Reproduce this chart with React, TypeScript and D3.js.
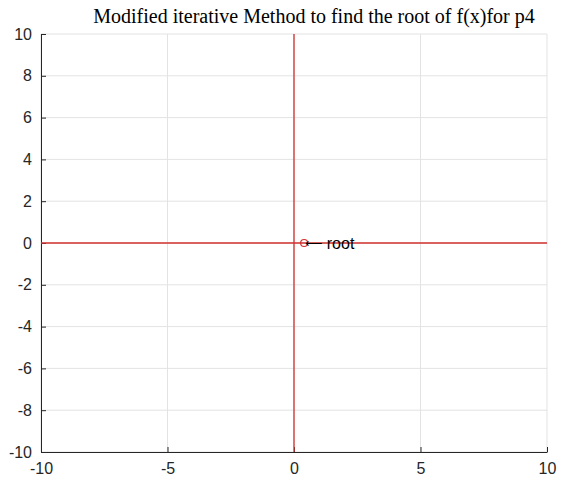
import * as d3 from "d3";
import { useEffect, useRef } from "react";

// axis ranges and ticks
const xDomain = [-10, 10];
const yDomain = [-10, 10];
const xTicks = [-10, -5, 0, 5, 10];
const yTicks = [-10, -8, -6, -4, -2, 0, 2, 4, 6, 8, 10];

// red reference lines (y = 0 and x = 0)
const hLineX = [-10, 10];
const hLineY = [0, 0];
const vLineX = [0, 0];
const vLineY = [-10, 10];

// the root found by the method
const rootX = 0.4;
const rootY = 0;
const rootArrow = "\u27F5";
const rootLabel = " root";

const title = "Modified iterative Method to find the root of f(x)for p4";

export default function App() {
  const ref = useRef<SVGSVGElement>(null);

  useEffect(() => {
    const svg = d3.select(ref.current);
    svg.selectAll("*").remove();

    const margin = { top: 34, right: 19, bottom: 31, left: 41 };
    const width = 566 - margin.left - margin.right;
    const height = 483 - margin.top - margin.bottom;

    const x = d3.scaleLinear().domain(xDomain).range([0, width]);
    const y = d3.scaleLinear().domain(yDomain).range([height, 0]);

    const g = svg
      .append("g")
      .attr("transform", `translate(${margin.left},${margin.top})`);

    // grid
    g.selectAll("line.gx")
      .data(xTicks)
      .enter()
      .append("line")
      .attr("x1", (d) => x(d))
      .attr("x2", (d) => x(d))
      .attr("y1", 0)
      .attr("y2", height)
      .attr("stroke", "#e3e3e3");
    g.selectAll("line.gy")
      .data(yTicks)
      .enter()
      .append("line")
      .attr("x1", 0)
      .attr("x2", width)
      .attr("y1", (d) => y(d))
      .attr("y2", (d) => y(d))
      .attr("stroke", "#e3e3e3");

    // axes (ticks inward, MATLAB style)
    const font = "Arial, 'Liberation Sans', sans-serif";
    const fmt = (d: any) => String(d);
    const xAxis = g
      .append("g")
      .attr("transform", `translate(0,${height})`)
      .call(
        d3.axisBottom(x).tickValues(xTicks).tickFormat(fmt).tickSize(-5).tickPadding(8).tickSizeOuter(0)
      );
    const yAxis = g
      .append("g")
      .call(
        d3.axisLeft(y).tickValues(yTicks).tickFormat(fmt).tickSize(-5).tickPadding(9).tickSizeOuter(0)
      );
    [xAxis, yAxis].forEach((a) => {
      a.attr("font-size", null).attr("font-family", null);
      a.select(".domain").attr("stroke", "#262626");
      a.selectAll(".tick line").attr("stroke", "#262626");
      a.selectAll(".tick text")
        .attr("fill", "#262626")
        .style("font-family", font)
        .style("font-size", "16px");
    });
    xAxis.selectAll(".tick text").attr("dy", "0.85em");

    // red lines
    const line = d3
      .line<number[]>()
      .x((d) => x(d[0]))
      .y((d) => y(d[1]));
    const hPts = hLineX.map((v, i) => [v, hLineY[i]]);
    const vPts = vLineX.map((v, i) => [v, vLineY[i]]);
    [hPts, vPts].forEach((pts) => {
      g.append("path")
        .datum(pts)
        .attr("d", line)
        .attr("fill", "none")
        .attr("stroke", "#d0302f")
        .attr("stroke-width", 1.3);
    });

    // root marker + label
    g.append("circle")
      .attr("cx", x(rootX))
      .attr("cy", y(rootY))
      .attr("r", 3.5)
      .attr("fill", "none")
      .attr("stroke", "#d0302f")
      .attr("stroke-width", 1.2);
    const t = g
      .append("text")
      .attr("x", x(rootX) + 1)
      .attr("y", y(rootY))
      .style("font-family", font)
      .style("font-size", "16px")
      .attr("fill", "#000");
    t.append("tspan")
      .style("font-family", "'DejaVu Sans', sans-serif")
      .style("font-size", "12px")
      .attr("dy", 4)
      .text(rootArrow);
    t.append("tspan").attr("dy", 2).text(rootLabel);

    // title
    svg
      .append("text")
      .attr("x", 314)
      .attr("y", 23)
      .attr("text-anchor", "middle")
      .style("font-family", "'Liberation Serif', 'DejaVu Serif', serif")
      .style("font-size", "20px")
      .attr("fill", "#000")
      .text(title);
  }, []);

  return (
    <div style={{ margin: -8 }}>
      <svg ref={ref} width={566} height={483} style={{ display: "block", background: "#fff" }} />
    </div>
  );
}
